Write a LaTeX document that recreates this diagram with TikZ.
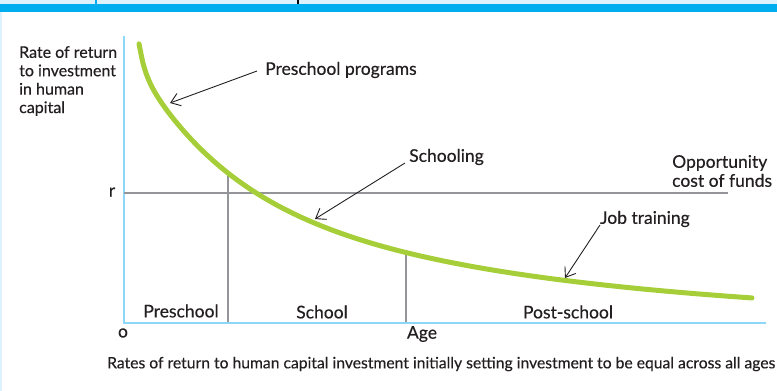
\documentclass[tikz,border=0pt]{standalone}
\usepackage{fontspec}
\usepackage{graphicx}
\setmainfont{Lato}[FakeBold=0.35]
\usetikzlibrary{arrows.meta}
\definecolor{txt}{HTML}{231F20}
\definecolor{axisblue}{HTML}{8DD8F8}
\definecolor{barblue}{HTML}{00AEEF}
\definecolor{paleblue}{HTML}{DDF2FC}
\definecolor{curvegreen}{HTML}{A6CE39}
\definecolor{linegray}{HTML}{939598}
\tikzset{
  lbl/.style={inner sep=0pt, text=txt, font=\fontsize{17.5}{19}\selectfont},
  lblw/.style={lbl, anchor=west},
  pointer/.style={draw=txt, line width=0.9pt, -{Straight Barb[length=9pt,width=13pt]}},
  guide/.style={draw=linegray, line width=2.2pt},
  axisline/.style={draw=axisblue, line width=2.5pt},
}
\begin{document}
\begin{tikzpicture}[x=1pt,y=-1pt,
  declare function={hh(\t)=25*exp(max(-30,-0.176*(\t-139))) + 122.5*exp(-0.01086*(\t-139)) + 131.6*exp(-0.00271*(\t-139));}]
\useasboundingbox (0,0) rectangle (777,391);
% header strip
\fill[paleblue] (0,0) rectangle (777,4);
\fill[barblue] (0,4) rectangle (777,12);
\fill[barblue] (95,0) rectangle (97,4);
\fill[black] (297,0) rectangle (298.5,4);
\fill[paleblue] (0,12) rectangle (1.5,391);
% axes
\coordinate (O) at (124,323);
\coordinate (ytop) at (124,36);
\coordinate (xend) at (766,323);
\draw[axisline] (ytop) -- (O) -- (xend);
% opportunity cost line
\coordinate (r0) at (124,193);
\coordinate (r1) at (728,193);
\draw[guide] (r0) -- (r1);
% vertical dividers
\coordinate (v1t) at (228,{323-hh(228)});
\coordinate (v1b) at (228,322);
\coordinate (v2t) at (406,{323-hh(406)});
\coordinate (v2b) at (406,322);
\draw[guide] (v1t) -- (v1b);
\draw[guide] (v2t) -- (v2b);
% curve
\draw[curvegreen, line width=5pt, line cap=round] plot[domain=139:752, samples=160, smooth] (\x,{323-hh(\x)});
% labels
\node[lbl, anchor=north west, align=left, font=\fontsize{16}{18.4}\selectfont] (ylab) at (19,46) {Rate of return\\to investment\\in human\\capital};
\node[lblw] (pre) at (265,70) {Preschool programs};
\node[lblw] (sch) at (409,157) {Schooling};
\node[lbl, anchor=west, align=left] (opp) at (672,171) {Opportunity\\cost of funds};
\node[lblw] (job) at (600,219) {Job training};
\node[lbl] (rl) at (112,192) {r};
\node[lbl] (ol) at (123,333) {o};
\node[lbl] (age) at (422,334) {Age};
\node[lbl] (pz) at (181,311) {Preschool};
\node[lbl] (sz) at (322,312) {School};
\node[lbl] (psz) at (568,312) {Post-school};
\node[lbl, anchor=west, font=\fontsize{16}{19}\selectfont] (cap) at (107,364) {\resizebox{668pt}{!}{Rates of return to human capital investment initially setting investment to be equal across all ages}};
% pointers
\coordinate (preTip) at (170,103);
\coordinate (schTip) at (315,219);
\coordinate (jobTip) at (565,278);
\draw[pointer] (pre.west) ++(-8,1) -- (preTip);
\draw[pointer] (sch.west) ++(-4,6) -- (schTip);
\draw[pointer] (job.west) ++(0,6) -- (jobTip);
\end{tikzpicture}
\end{document}
